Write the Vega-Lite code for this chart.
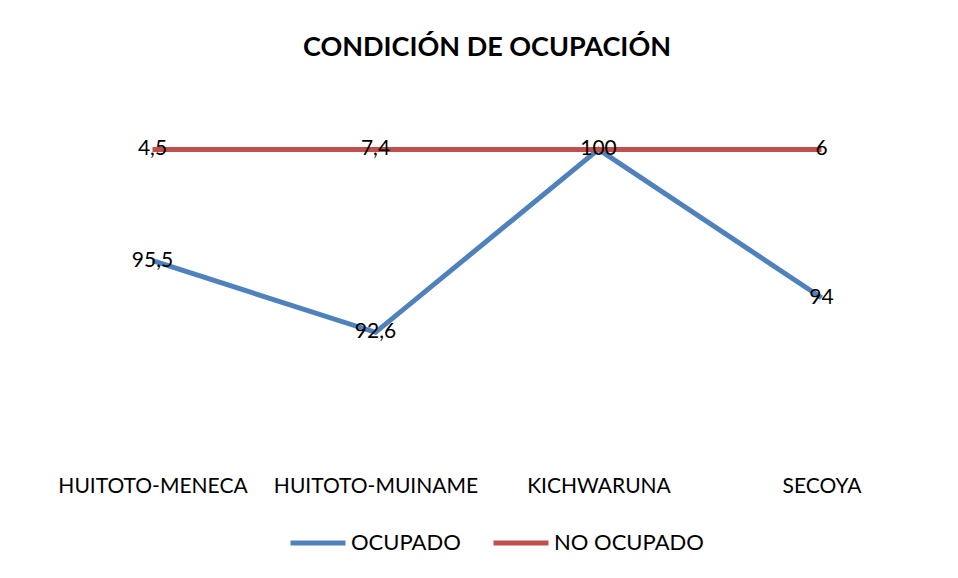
{
  "$schema": "https://vega.github.io/schema/vega-lite/v6.json",
  "width": 892,
  "height": 346,
  "autosize": "none",
  "padding": {"left": 41, "top": 100, "right": 25, "bottom": 132},
  "background": "white",
  "config": {
    "font": "Lato",
    "view": {"stroke": null},
    "locale": {"number": {"decimal": ",", "thousands": ".", "grouping": [3], "currency": ["", " €"]}}
  },
  "title": {
    "text": "CONDICIÓN DE OCUPACIÓN",
    "fontSize": 27,
    "fontWeight": "bold",
    "color": "black",
    "anchor": "middle",
    "frame": "group",
    "offset": 38
  },
  "data": {
    "values": [
      {"grupo": "HUITOTO-MENECA", "serie": "OCUPADO", "valor": 95.5},
      {"grupo": "HUITOTO-MUINAME", "serie": "OCUPADO", "valor": 92.6},
      {"grupo": "KICHWARUNA", "serie": "OCUPADO", "valor": 100},
      {"grupo": "SECOYA", "serie": "OCUPADO", "valor": 94},
      {"grupo": "HUITOTO-MENECA", "serie": "NO OCUPADO", "valor": 4.5},
      {"grupo": "HUITOTO-MUINAME", "serie": "NO OCUPADO", "valor": 7.4},
      {"grupo": "KICHWARUNA", "serie": "NO OCUPADO", "valor": 0},
      {"grupo": "SECOYA", "serie": "NO OCUPADO", "valor": 6}
    ]
  },
  "transform": [
    {"stack": "valor", "groupby": ["grupo"], "sort": [{"field": "serie", "order": "descending"}], "as": ["y0", "y1"]}
  ],
  "encoding": {
    "x": {
      "field": "grupo",
      "type": "ordinal",
      "scale": {"type": "point", "padding": 0.5},
      "sort": ["HUITOTO-MENECA", "HUITOTO-MUINAME", "KICHWARUNA", "SECOYA"],
      "axis": {
        "title": null,
        "domain": false,
        "ticks": false,
        "labelAngle": 0,
        "labelFontSize": 21,
        "labelColor": "black",
        "labelPadding": 29,
        "labelLimit": 0,
        "labelFont": "Lato"
      }
    },
    "y": {
      "field": "y1",
      "type": "quantitative",
      "scale": {"domain": [88, 102], "nice": false, "zero": false},
      "axis": null
    }
  },
  "layer": [
    {
      "mark": {"type": "line", "strokeWidth": 5},
      "encoding": {
        "color": {
          "field": "serie",
          "type": "nominal",
          "scale": {"domain": ["OCUPADO", "NO OCUPADO"], "range": ["#4F81BD", "#C0504D"]},
          "legend": {
            "title": null,
            "orient": "none",
            "direction": "horizontal",
            "legendX": 247,
            "legendY": 413,
            "symbolType": "stroke",
            "symbolSize": 3025,
            "symbolStrokeWidth": 5,
            "labelFontSize": 22,
            "labelColor": "black",
            "labelOffset": 3,
            "columnPadding": 22
          }
        }
      }
    },
    {
      "transform": [{"filter": "datum.serie == 'OCUPADO' || datum.valor > 0"}],
      "mark": {"type": "text", "fontSize": 21, "color": "black", "align": "center", "baseline": "middle"},
      "encoding": {
        "text": {"field": "valor", "type": "quantitative", "format": "~g"}
      }
    }
  ]
}
